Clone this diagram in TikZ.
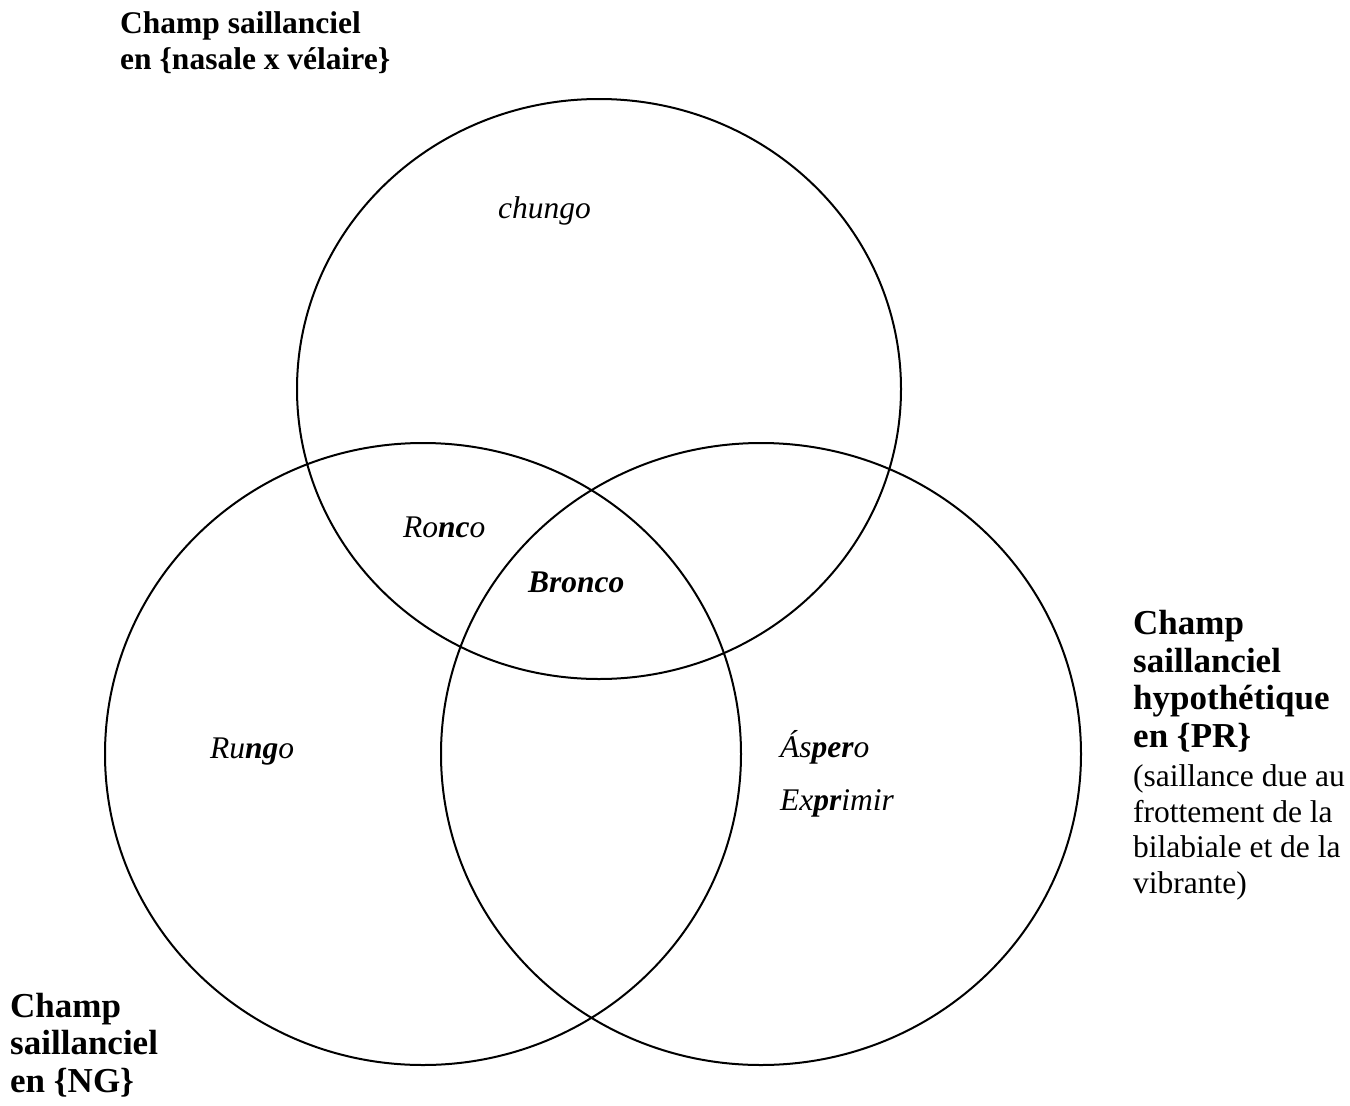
\documentclass[tikz,border=0pt]{standalone}
\usepackage{fontspec}
\setmainfont{Liberation Serif}
\tikzset{
  venn/.style={draw=black, line width=2pt},
  lbl/.style={inner sep=0pt, anchor=base west, align=left, font=\fontsize{31.5}{35.5}\selectfont},
  biglbl/.style={inner sep=0pt, anchor=base west, align=left, font=\fontsize{35}{37.5}\selectfont\bfseries},
  word/.style={inner sep=0pt, anchor=base west, font=\fontsize{31.5}{37}\selectfont\itshape},
}
\newcommand{\bi}[1]{\textbf{\textit{#1}}}
\begin{document}
\begin{tikzpicture}[x=1pt,y=-1pt]
\useasboundingbox (0,0) rectangle (1350,1106);
\draw[venn] (599,389) ellipse [x radius=302pt, y radius=290pt];
\draw[venn] (423,754) ellipse [x radius=318pt, y radius=311pt];
\draw[venn] (761,754) ellipse [x radius=320pt, y radius=311pt];
\node[lbl] (top) at (120,69) {\textbf{Champ saillanciel}\\\textbf{en \{nasale x vélaire\}}};
\node[biglbl] (righttitle) at (1133,747) {Champ\\saillanciel\\hypothétique\\en \{PR\}};
\node[lbl] (rightnote) at (1133,893) {(saillance due au\\frottement de la\\bilabiale et de la\\vibrante)};
\node[biglbl] (left) at (10,1092) {Champ\\saillanciel\\en \{NG\}};
\node[word] (chungo) at (498,218) {chungo};
\node[word] (ronco) at (403,537) {Ro\bi{nc}o};
\node[word] (bronco) at (528,592) {\bi{Bronco}};
\node[word] (rungo) at (210,758) {Ru\bi{ng}o};
\node[word] (aspero) at (780,757) {Ás\bi{per}o};
\node[word] (exprimir) at (780,810) {Ex\bi{pr}imir};
\end{tikzpicture}
\end{document}
